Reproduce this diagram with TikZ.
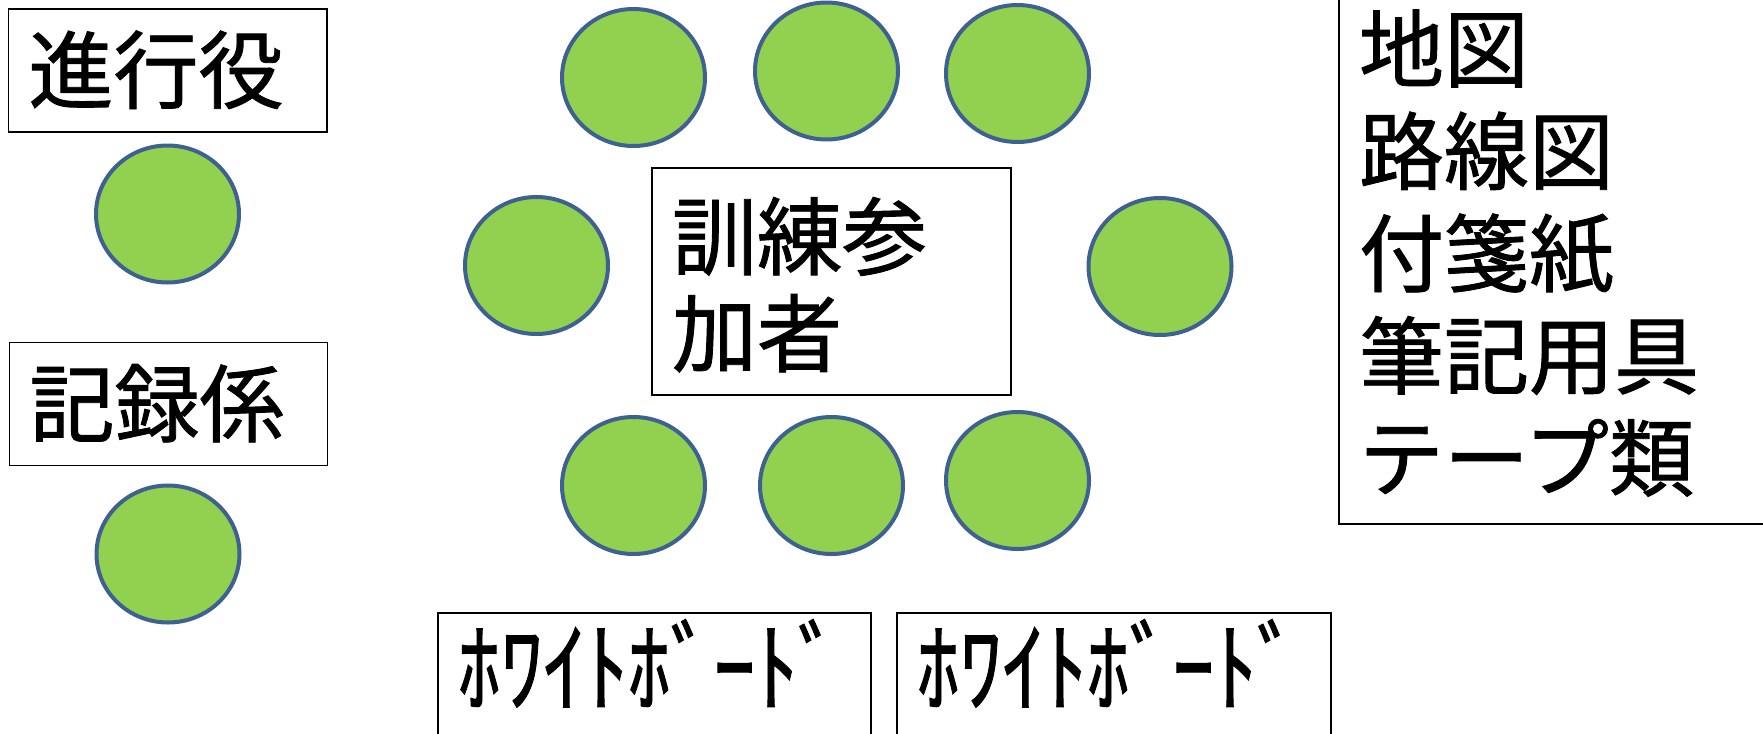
\documentclass[tikz,border=0pt]{standalone}
\usepackage{fontspec}
\usepackage{graphicx}
\newfontfamily\jpfont{Noto Sans CJK JP}[FakeBold=1]
\usetikzlibrary{shapes.geometric}
\definecolor{seatgreen}{HTML}{92D050}
\definecolor{seatblue}{HTML}{3E6191}
\tikzset{
  seat/.style={ellipse, draw=seatblue, fill=seatgreen, line width=2pt, minimum width=71.5pt, minimum height=68.5pt, inner sep=0pt},
  card/.style={draw, line width=0.8pt, anchor=base west, inner xsep=10pt, inner ysep=0pt, outer sep=0pt, align=left, font=\jpfont\fontsize{42.5}{51}\selectfont}
}
\begin{document}
\begin{tikzpicture}[x=0.5pt, y=-0.5pt]
\useasboundingbox (0,0) rectangle (1763,734);
\clip (0,0) rectangle (1763,734);
% roles on the left
\node[card, text width=139.25pt, text height=46.5pt, text depth=15pt] (lead) at (8.5,102) {進行役};
\node[card, text width=139pt, text height=46.5pt, text depth=15pt] (record) at (9.5,435.5) {記録係};
% table and materials
\node[card, text width=159.5pt, text height=50.25pt, text depth=63.25pt, font=\jpfont\fontsize{42.5}{48.5}\selectfont] (trainee) at (652,268.5) {訓練参\\加者};
\node[card, text width=210pt, text height=55.5pt, text depth=221.5pt, font=\jpfont\fontsize{42.5}{51.1}\selectfont] (tools) at (1339,81) {地図\\路線図\\付箋紙\\筆記用具\\テープ類};
\node[card, text width=196.5pt, text height=45.5pt, text depth=30pt] (board1) at (438,704) {\scalebox{1}[1.17]{ﾎﾜｲﾄﾎﾞｰﾄﾞ}};
\node[card, text width=197pt, text height=45.5pt, text depth=30pt] (board2) at (897,704) {\scalebox{1}[1.17]{ﾎﾜｲﾄﾎﾞｰﾄﾞ}};
% seats
\foreach \x/\y [count=\i] in {167.5/214, 168/554, 633.5/77.5, 826.5/71, 1017.5/73.5, 536.5/265.5, 1160/266.5, 633.5/485.5, 831.5/485.5, 1017.5/480.5}
  \node[seat] (seat\i) at (\x,\y) {};
\end{tikzpicture}
\end{document}
